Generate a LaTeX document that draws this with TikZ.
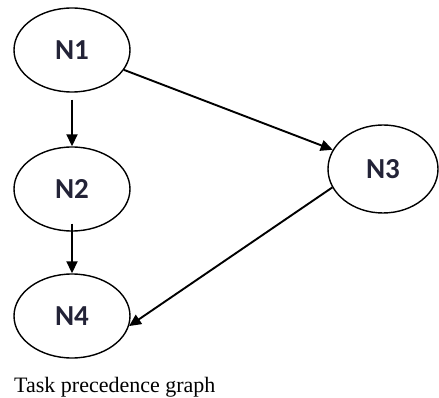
\documentclass[tikz,border=0pt]{standalone}
\usepackage{fontspec}
\setmainfont{Liberation Serif}
\newfontfamily\labelfont{Carlito}
\usetikzlibrary{shapes.geometric,arrows.meta}
\definecolor{labelink}{RGB}{35,35,55}
\begin{document}
\begin{tikzpicture}[x=1pt,y=-1pt,
	task/.style={ellipse,draw,line width=1.4pt,minimum width=116pt,minimum height=84pt,
		inner sep=0pt,font=\labelfont\bfseries\fontsize{29}{32}\selectfont,text=labelink},
	link/.style={-{Triangle[length=12pt,width=11pt]},line width=1.9pt}]
\useasboundingbox (0,0) rectangle (439,398);
\node[task] (N1) at (72,50) {N1};
\node[task] (N2) at (72,189) {N2};
\node[task,minimum width=110pt,minimum height=88pt] (N3) at (383,169) {N3};
\node[task] (N4) at (72,316) {N4};
\draw[link,shorten <=7pt] (N1) -- (N2);
\draw[link,shorten <=-8pt] (N2) -- (N4);
\draw[link] (N1) -- (N3);
\draw[link] (N3.200) -- (N4.-10);
\node[anchor=base west,inner sep=0pt,font=\fontsize{22}{25}\selectfont] (caption) at (14,392) {Task precedence graph};
\end{tikzpicture}
\end{document}
